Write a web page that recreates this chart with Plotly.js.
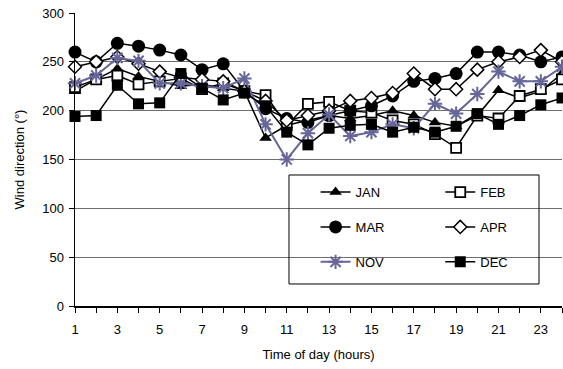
<!DOCTYPE html>
<html>
<head>
<meta charset="utf-8">
<script src="https://cdn.plot.ly/plotly-3.0.1.min.js"></script>
<style>html,body{margin:0;padding:0;background:#fff}#chart{width:563px;height:369px}</style>
</head>
<body>
<div id="chart"></div>
<script>
const hours = [1,2,3,4,5,6,7,8,9,10,11,12,13,14,15,16,17,18,19,20,21,22,23,24];
const xTickVals = [1,3,5,7,9,11,13,15,17,19,21,23];
const yTickVals = [0,50,100,150,200,250,300];

const JAN = [220,232,243,235,230,225,227,223,220,172,185,190,195,192,195,200,195,188,184,195,221,213,220,238];
const FEB = [224,232,236,227,230,233,222,228,220,216,185,207,209,200,198,190,186,176,162,195,192,215,222,232];
const MAR = [260,250,269,266,262,257,242,248,220,202,192,188,195,200,205,215,230,233,238,260,260,257,250,255];
const APR = [245,250,255,248,240,234,232,230,220,210,190,195,200,210,213,218,238,222,222,242,250,255,262,250];
const NOV = [228,236,254,251,228,228,225,223,233,186,150,177,196,174,178,186,182,207,197,217,240,230,230,245];
const DEC = [194,195,226,207,208,238,223,211,218,205,178,165,182,185,186,178,183,178,184,197,186,195,206,213];

const seriesNames = ['JAN','FEB','MAR','APR','NOV','DEC'];
const seriesData = [JAN, FEB, MAR, APR, NOV, DEC];

const styles = {
  JAN: {line:{color:'#000',width:1.5}, marker:{symbol:'triangle-up', size:11, color:'#000'}, legend:'legend'},
  FEB: {line:{color:'#000',width:1.5}, marker:{symbol:'square', size:10, color:'#fff', line:{color:'#000',width:1.8}}, legend:'legend2'},
  MAR: {line:{color:'#000',width:1.5}, marker:{symbol:'circle', size:13, color:'#000'}, legend:'legend'},
  APR: {line:{color:'#000',width:1.5}, marker:{symbol:'diamond', size:10, color:'#fff', line:{color:'#000',width:1.5}}, legend:'legend2'},
  NOV: {line:{color:'#666699',width:2}, marker:{symbol:'asterisk-open', size:12, color:'#666699', line:{color:'#666699',width:2}}, legend:'legend'},
  DEC: {line:{color:'#000',width:1.5}, marker:{symbol:'square', size:11, color:'#000'}, legend:'legend2'}
};

const traces = seriesNames.map((n, i) => ({
  type:'scatter', mode:'lines+markers', name:n, x:hours, y:seriesData[i],
  line:styles[n].line, marker:styles[n].marker, legend:styles[n].legend,
  legendgroup:n, cliponaxis:false
}));

const FONT = 'Liberation Sans, Arial, sans-serif';

const layout = {
  width:563, height:369,
  margin:{l:75, r:1, t:13, b:63},
  paper_bgcolor:'#fff', plot_bgcolor:'#fff',
  font:{family:FONT, size:13, color:'#000'},
  showlegend:true,
  xaxis:{
    range:[1,24], tickvals:xTickVals, ticks:'outside', ticklen:5, tickcolor:'#000',
    showline:true, linecolor:'#000', linewidth:1.5, showgrid:false, zeroline:false,
    minor:{tick0:1, dtick:1, ticks:'outside', ticklen:5, tickcolor:'#000'},
    ticklabelstandoff:6,
    title:{text:'Time of day (hours)', font:{size:13}, standoff:14},
    fixedrange:true
  },
  yaxis:{
    range:[0,300], tickvals:yTickVals, ticks:'outside', ticklen:5, tickcolor:'#000',
    showline:true, linecolor:'#000', linewidth:1.5,
    showgrid:true, gridcolor:'#6e6e6e', gridwidth:1, zeroline:false,
    ticklabelstandoff:2,
    title:{text:'Wind direction (°)', font:{size:13}, standoff:14},
    fixedrange:true
  },
  legend:{
    x:0.494, y:0.44, xanchor:'left', yanchor:'top', orientation:'v',
    bgcolor:'rgba(0,0,0,0)', borderwidth:0, tracegroupgap:15,
    font:{family:FONT, size:13}
  },
  legend2:{
    x:0.75, y:0.44, xanchor:'left', yanchor:'top', orientation:'v',
    bgcolor:'rgba(0,0,0,0)', borderwidth:0, tracegroupgap:15,
    font:{family:FONT, size:13}
  },
  shapes:[
    {type:'rect', xref:'paper', yref:'paper', x0:0.4394, x1:0.9528, y0:0.0751, y1:0.4471,
     line:{color:'#000', width:1}, fillcolor:'rgba(0,0,0,0)', layer:'above'}
  ]
};

Plotly.newPlot('chart', traces, layout, {displayModeBar:false, staticPlot:true});
</script>
</body>
</html>
